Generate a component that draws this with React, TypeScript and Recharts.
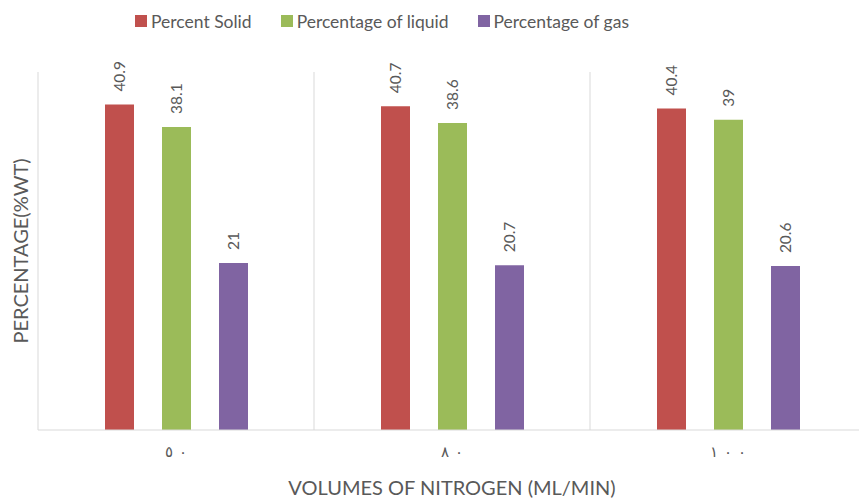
import React from "react";
import {
  BarChart,
  Bar,
  XAxis,
  YAxis,
  CartesianGrid,
  Legend,
  LabelList,
} from "recharts";

const categories = ["٥٠", "٨٠", "١٠٠"];
const solid = [40.9, 40.7, 40.4];
const liquid = [38.1, 38.6, 39];
const gas = [21, 20.7, 20.6];

const series = [
  { key: "solid", name: "Percent Solid", color: "#C0504D" },
  { key: "liquid", name: "Percentage of liquid", color: "#9BBB59" },
  { key: "gas", name: "Percentage of gas", color: "#8064A2" },
];

const data = categories.map((c, i) => ({
  name: c,
  solid: solid[i],
  liquid: liquid[i],
  gas: gas[i],
}));

const FONT = "Lato, 'DejaVu Sans', sans-serif";
const TEXT = "#595959";

// rotated value label sitting above each bar
const VerticalLabel = (props: any) => {
  const { x, y, width, value } = props;
  const cx = x + width / 2;
  const ty = y - 13;
  return (
    <text
      x={cx}
      y={ty}
      transform={`rotate(-90 ${cx} ${ty})`}
      textAnchor="start"
      dominantBaseline="central"
      fill={TEXT}
      fontSize={15.5}
      fontFamily={FONT}
    >
      {value}
    </text>
  );
};

// arabic digits drawn with wide spacing like the original
const SpacedTick = (props: any) => {
  const { x, y, payload } = props;
  const chars = String(payload.value).split("");
  return (
    <text
      x={x}
      y={y + 8}
      textAnchor="middle"
      dominantBaseline="central"
      fill={TEXT}
      fontSize={15}
      fontFamily={FONT}
    >
      {chars.map((ch, i) => (
        <tspan key={i} dx={i === 0 ? 0 : 6}>
          {ch}
        </tspan>
      ))}
    </text>
  );
};

// legend kept in series order, fixed height so the plot top stays put
const LegendBox = () => (
  <div
    style={{
      height: 26,
      display: "flex",
      alignItems: "center",
      gap: 29,
      fontFamily: FONT,
      fontSize: 17.5,
      color: TEXT,
    }}
  >
    {series.map((s) => (
      <div key={s.key} style={{ display: "flex", alignItems: "center" }}>
        <span
          style={{
            width: 12,
            height: 12,
            background: s.color,
            marginRight: 4,
            display: "inline-block",
          }}
        />
        <span>{s.name}</span>
      </div>
    ))}
  </div>
);

const App = () => {
  return (
    <div
      style={{
        position: "absolute",
        left: 0,
        top: 0,
        width: 859,
        height: 500,
        overflow: "hidden",
        background: "#fff",
      }}
    >
      <BarChart
        width={866}
        height={500}
        data={data}
        margin={{ top: 46, right: 0, left: 0, bottom: 0 }}
        barSize={29}
        barGap={28}
      >
        <CartesianGrid
          horizontal={false}
          stroke="#D9D9D9"
          verticalCoordinatesGenerator={({ offset }: any) => [
            offset.left + offset.width / 3,
            offset.left + (2 * offset.width) / 3,
          ]}
        />
        <Legend
          verticalAlign="top"
          align="left"
          content={<LegendBox />}
          wrapperStyle={{ top: 8, left: 135 }}
        />
        <XAxis
          dataKey="name"
          height={70}
          tickLine={false}
          axisLine={{ stroke: "#D9D9D9" }}
          tickMargin={7}
          tick={<SpacedTick />}
          label={{
            value: "VOLUMES OF NITROGEN (ML/MIN)",
            position: "insideBottom",
            offset: 5,
            fill: TEXT,
            fontSize: 20,
            fontFamily: FONT,
          }}
        />
        <YAxis
          width={38}
          domain={[0, 45]}
          tick={false}
          tickLine={false}
          axisLine={{ stroke: "#D9D9D9" }}
          label={{
            value: "PERCENTAGE(%WT)",
            angle: -90,
            position: "center",
            dx: 2,
            fill: TEXT,
            fontSize: 20,
            fontFamily: FONT,
          }}
        />
        {series.map((s) => (
          <Bar
            key={s.key}
            dataKey={s.key}
            name={s.name}
            fill={s.color}
            isAnimationActive={false}
          >
            <LabelList dataKey={s.key} content={<VerticalLabel />} />
          </Bar>
        ))}
      </BarChart>
    </div>
  );
};

export default App;
